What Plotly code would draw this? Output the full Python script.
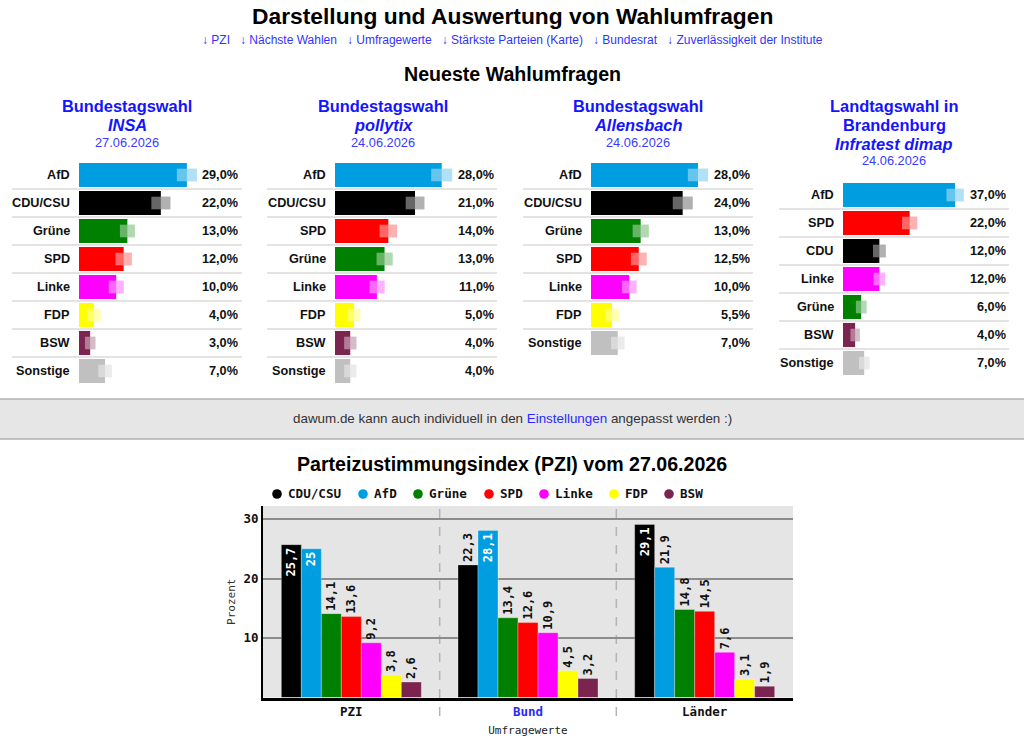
import plotly.graph_objects as go

# ---------------- data ----------------
P1_PARTIES = ["AfD", "CDU/CSU", "Grüne", "SPD", "Linke", "FDP", "BSW", "Sonstige"]
P1_VALUES = [29.0, 22.0, 13.0, 12.0, 10.0, 4.0, 3.0, 7.0]
P1_ERRORS = [2.7, 2.55, 2.0, 2.2, 2.0, 1.8, 1.4, 1.8]

P2_PARTIES = ["AfD", "CDU/CSU", "SPD", "Grüne", "Linke", "FDP", "BSW", "Sonstige"]
P2_VALUES = [28.0, 21.0, 14.0, 13.0, 11.0, 5.0, 4.0, 4.0]
P2_ERRORS = [2.75, 2.45, 2.3, 2.1, 2.0, 1.6, 1.6, 1.6]

P3_PARTIES = ["AfD", "CDU/CSU", "Grüne", "SPD", "Linke", "FDP", "Sonstige"]
P3_VALUES = [28.0, 24.0, 13.0, 12.5, 10.0, 5.5, 7.0]
P3_ERRORS = [2.65, 2.6, 2.1, 2.05, 1.9, 1.8, 1.75]

P4_PARTIES = ["AfD", "SPD", "CDU", "Linke", "Grüne", "BSW", "Sonstige"]
P4_VALUES = [37.0, 22.0, 12.0, 12.0, 6.0, 4.0, 7.0]
P4_ERRORS = [2.85, 2.5, 2.1, 1.9, 1.75, 1.55, 1.75]

PANEL_TITLES = [
    ["<b>Bundestagswahl</b>", "<b><i>INSA</i></b>"],
    ["<b>Bundestagswahl</b>", "<b><i>pollytix</i></b>"],
    ["<b>Bundestagswahl</b>", "<b><i>Allensbach</i></b>"],
    ["<b>Landtagswahl in</b>", "<b>Brandenburg</b>", "<b><i>Infratest dimap</i></b>"],
]
PANEL_DATES = ["27.06.2026", "24.06.2026", "24.06.2026", "24.06.2026"]

PZI_CATEGORIES = ["PZI", "Bund", "Länder"]
PZI_PARTIES = ["CDU/CSU", "AfD", "Grüne", "SPD", "Linke", "FDP", "BSW"]
PZI_CDU = [25.7, 22.3, 29.1]
PZI_AFD = [25.0, 28.1, 21.9]
PZI_GRUENE = [14.1, 13.4, 14.8]
PZI_SPD = [13.6, 12.6, 14.5]
PZI_LINKE = [9.2, 10.9, 7.6]
PZI_FDP = [3.8, 4.5, 3.1]
PZI_BSW = [2.6, 3.2, 1.9]

# ---------------- styles ----------------
W, H = 1024, 742
def px(x): return x / W
def py(y): return 1 - y / H

COLORS = {
    "AfD": "#009ee0", "CDU/CSU": "#000000", "CDU": "#000000", "Grüne": "#008000",
    "SPD": "#ff0000", "Linke": "#ff00ff", "FDP": "#ffff00", "BSW": "#7b2450",
    "Sonstige": "#c0c0c0",
}
SANS = "Arial, Liberation Sans, sans-serif"
MONO = "DejaVu Sans Mono, monospace"
BLUE = "#1414ff"
DATE_BLUE = "#3a3aff"

PANEL_STYLE = [
    dict(bar_x0=79, scale=3.72, val_x=240, lab_x=72, sep=(12, 242), cx=127, row0=175, ty=106),
    dict(bar_x0=335, scale=3.81, val_x=496, lab_x=328, sep=(267, 497), cx=383, row0=175, ty=106),
    dict(bar_x0=591, scale=3.82, val_x=752, lab_x=584, sep=(523, 753), cx=638, row0=175, ty=106),
    dict(bar_x0=843, scale=3.03, val_x=1008, lab_x=836, sep=(779, 1009), cx=894, row0=195, ty=106.5),
]
ROW = 28

panels = [
    (P1_PARTIES, P1_VALUES, P1_ERRORS),
    (P2_PARTIES, P2_VALUES, P2_ERRORS),
    (P3_PARTIES, P3_VALUES, P3_ERRORS),
    (P4_PARTIES, P4_VALUES, P4_ERRORS),
]

fig = go.Figure()
layout_axes = {}
annotations = []
shapes = []

def fmt_pct(v):
    return f"{v:.1f}".replace(".", ",") + "%"

for k, ((parties, values, errors), st) in enumerate(zip(panels, PANEL_STYLE), start=1):
    xa, ya = f"x{k}", f"y{k}"
    cols = [COLORS[p] for p in parties]
    n = len(parties)
    fig.add_trace(go.Bar(orientation="h", y=parties, x=values, width=0.86,
                         marker=dict(color=cols, line=dict(width=0)),
                         xaxis=xa, yaxis=ya, hoverinfo="skip"))
    # uncertainty boxes around the bar ends
    fig.add_trace(go.Bar(orientation="h", y=parties, x=[2 * e for e in errors],
                         base=[v - e for v, e in zip(values, errors)], width=0.45,
                         marker=dict(color=cols, line=dict(width=0)), opacity=0.5,
                         xaxis=xa, yaxis=ya, hoverinfo="skip"))
    fig.add_trace(go.Bar(orientation="h", y=parties, x=[2 * e for e in errors],
                         base=[v - e for v, e in zip(values, errors)], width=0.45,
                         marker=dict(color="#ffffff", line=dict(width=0)), opacity=0.4,
                         xaxis=xa, yaxis=ya, hoverinfo="skip"))
    top = st["row0"] - ROW / 2
    bottom = top + ROW * n
    layout_axes[f"xaxis{k}"] = dict(domain=[px(st["bar_x0"]), px(st["val_x"])],
                                    range=[0, (st["val_x"] - st["bar_x0"]) / st["scale"]],
                                    visible=False, anchor=ya, fixedrange=True)
    layout_axes[f"yaxis{k}"] = dict(domain=[py(bottom), py(top)], type="category",
                                    categoryorder="array", categoryarray=parties,
                                    range=[n - 0.5, -0.5], visible=False, anchor=xa,
                                    fixedrange=True)
    for i, (p, v) in enumerate(zip(parties, values)):
        annotations.append(dict(x=px(st["lab_x"]), xref="paper", y=p, yref=ya,
                                text=f"<b>{p}</b>", xanchor="right", yanchor="middle",
                                showarrow=False, font=dict(family=SANS, size=12.7, color="#111")))
        annotations.append(dict(x=px(st["val_x"]), xref="paper", y=p, yref=ya,
                                text=f"<b>{fmt_pct(v)}</b>", xanchor="right", yanchor="middle",
                                showarrow=False, font=dict(family=SANS, size=12.7, color="#111")))
        if i < n - 1:
            shapes.append(dict(type="line", xref="paper", yref=ya,
                               x0=px(st["sep"][0]), x1=px(st["sep"][1]), y0=i + 0.5, y1=i + 0.5,
                               line=dict(color="#dadada", width=1.5), layer="below"))
    # panel header
    lines = PANEL_TITLES[k - 1]
    for j, t in enumerate(lines):
        annotations.append(dict(x=px(st["cx"]), y=py(st["ty"] + j * 18.5), xref="paper", yref="paper",
                                text=t, showarrow=False, xanchor="center", yanchor="middle",
                                font=dict(family=SANS, size=16.4, color=BLUE)))
    annotations.append(dict(x=px(st["cx"]), y=py(st["ty"] + len(lines) * 18.1), xref="paper", yref="paper",
                            text=PANEL_DATES[k - 1], showarrow=False, xanchor="center", yanchor="middle",
                            font=dict(family=SANS, size=12.8, color=DATE_BLUE)))

# ---------------- PZI grouped bars ----------------
pzi_series = [PZI_CDU, PZI_AFD, PZI_GRUENE, PZI_SPD, PZI_LINKE, PZI_FDP, PZI_BSW]
BAR_W = 20 / 176.67
GROUP_START = -3.5 * BAR_W
INSIDE_MIN = 24
for i, (p, vals) in enumerate(zip(PZI_PARTIES, pzi_series)):
    labels = [f"{v:g}".replace(".", ",") for v in vals]
    pos = ["inside" if v >= INSIDE_MIN else "outside" for v in vals]
    fig.add_trace(go.Bar(x=PZI_CATEGORIES, y=vals, name=p, width=BAR_W,
                         offset=GROUP_START + i * BAR_W,
                         marker=dict(color=COLORS[p], line=dict(color="rgba(255,255,255,0.3)", width=1)),
                         text=labels, textposition=pos, textangle=-90, insidetextanchor="end",
                         textfont=dict(family=MONO, size=12, weight="bold"),
                         insidetextfont=dict(family=MONO, size=12, color="#ffffff", weight="bold"),
                         outsidetextfont=dict(family=MONO, size=12, color="#111111", weight="bold"),
                         constraintext="none", cliponaxis=False,
                         xaxis="x5", yaxis="y5", hoverinfo="skip"))

layout_axes["xaxis5"] = dict(domain=[px(263), px(793)], anchor="y5", type="category",
                             categoryorder="array", categoryarray=PZI_CATEGORIES,
                             range=[-0.5, 2.5], showline=True, linecolor="#000", linewidth=3,
                             ticks="", tickvals=PZI_CATEGORIES,
                             ticktext=["PZI", "<span style='color:#2a2aff'>Bund</span>", "Länder"],
                             tickfont=dict(family=MONO, size=12.5, color="#111", weight="bold"),
                             title=dict(text="Umfragewerte", font=dict(family=MONO, size=11, color="#222"),
                                        standoff=9),
                             showgrid=False, zeroline=False, fixedrange=True)
layout_axes["yaxis5"] = dict(domain=[py(697.5), py(506)], anchor="x5", range=[0, 32.2],
                             tickvals=[10, 20, 30], ticktext=["10", "20", "30"], ticks="",
                             tickfont=dict(family=MONO, size=12.5, color="#111", weight="bold"),
                             showgrid=True, gridcolor="#8c8c8c", gridwidth=1.5,
                             showline=True, linecolor="#000", linewidth=2, zeroline=False,
                             title=dict(text="Prozent", font=dict(family=MONO, size=11, color="#333"),
                                        standoff=6),
                             fixedrange=True)

# gray plot background of the PZI chart
shapes.append(dict(type="rect", xref="x5 domain", yref="y5 domain", x0=0, x1=1, y0=0, y1=1,
                   fillcolor="#e5e5e5", line=dict(width=0), layer="below"))
for xs in (0.5, 1.5):
    shapes.append(dict(type="line", xref="x5", yref="paper", x0=xs, x1=xs, y0=py(716), y1=py(506),
                       line=dict(color="#b4b4b4", width=1.5, dash="dash"), layer="below"))

# legend of the PZI chart
LEGEND_X = [277, 363, 418, 489, 544, 614, 669]
LEGEND_Y = 494
for p, lx in zip(PZI_PARTIES, LEGEND_X):
    shapes.append(dict(type="circle", xref="paper", yref="paper",
                       x0=px(lx - 4.8), x1=px(lx + 4.8), y0=py(LEGEND_Y + 4.8), y1=py(LEGEND_Y - 4.8),
                       fillcolor=COLORS[p], line=dict(width=0)))
    annotations.append(dict(x=px(lx + 8.5), y=py(LEGEND_Y), xref="paper", yref="paper", text=p,
                            showarrow=False, xanchor="left", yanchor="middle",
                            font=dict(family=MONO, size=12.6, color="#111", weight="bold")))

# info band
shapes.append(dict(type="rect", xref="paper", yref="paper", x0=0, x1=1, y0=py(439), y1=py(399),
                   fillcolor="#e6e6e6", line=dict(width=0), layer="below"))
for yy in (399, 439):
    shapes.append(dict(type="line", xref="paper", yref="paper", x0=0, x1=1, y0=py(yy), y1=py(yy),
                       line=dict(color="#b0b0b0", width=1.5), layer="below"))

# page texts
GAP = "\u00a0" * 3
annotations += [
    dict(x=0.5, y=py(16), text="<b>Darstellung und Auswertung von Wahlumfragen</b>",
         font=dict(family=SANS, size=22.8, color="#000")),
    dict(x=0.5, y=py(40),
         text=GAP.join(["↓ PZI", "↓ Nächste Wahlen", "↓ Umfragewerte", "↓ Stärkste Parteien (Karte)",
                        "↓ Bundesrat", "↓ Zuverlässigkeit der Institute"]),
         font=dict(family=SANS, size=12, color="#3232ff")),
    dict(x=0.5, y=py(74), text="<b>Neueste Wahlumfragen</b>",
         font=dict(family=SANS, size=19.6, color="#000")),
    dict(x=0.5, y=py(418),
         text="dawum.de kann auch individuell in den <span style='color:#2a2aff'>Einstellungen</span> angepasst werden :)",
         font=dict(family=SANS, size=13.4, color="#333")),
    dict(x=0.5, y=py(464), text="<b>Parteizustimmungsindex (PZI) vom 27.06.2026</b>",
         font=dict(family=SANS, size=19.6, color="#000")),
]
for a in annotations[-5:]:
    a.update(xref="paper", yref="paper", showarrow=False, xanchor="center", yanchor="middle")

fig.update_layout(
    width=W, height=H, margin=dict(l=0, r=0, t=0, b=0, pad=0),
    paper_bgcolor="#ffffff", plot_bgcolor="rgba(0,0,0,0)",
    barmode="overlay", showlegend=False, hovermode=False,
    annotations=annotations, shapes=shapes, **layout_axes,
)

fig.write_html("out.html", config={"displayModeBar": False},
               post_script="document.body.style.margin='0';document.body.style.overflow='hidden';")
